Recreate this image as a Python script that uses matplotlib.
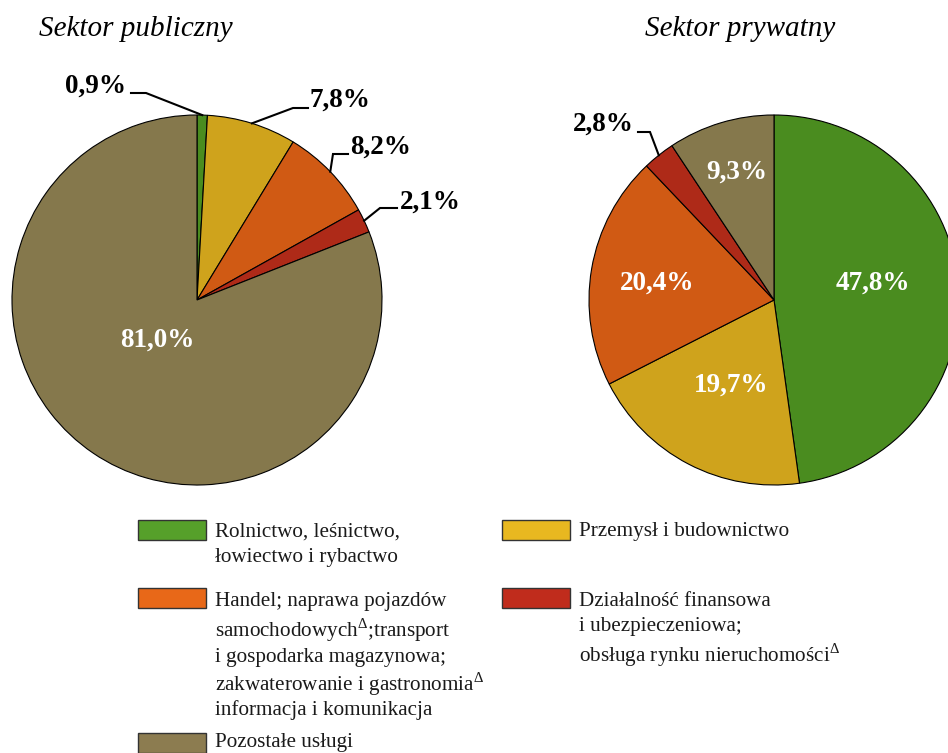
import matplotlib.pyplot as plt
from matplotlib.patches import Rectangle
import numpy as np

plt.rcParams['font.family'] = ['Liberation Serif', 'DejaVu Serif']
plt.rcParams['mathtext.fontset'] = 'custom'
plt.rcParams['mathtext.rm'] = 'Liberation Serif'

# data
sectors = ['Rolnictwo', 'Przemysl', 'Handel', 'Finanse', 'Pozostale']
public_share = [0.9, 7.8, 8.2, 2.1, 81.0]
private_share = [47.8, 19.7, 20.4, 2.8, 9.3]
public_labels = ['0,9%', '7,8%', '8,2%', '2,1%', '81,0%']
private_labels = ['47,8%', '19,7%', '20,4%', '2,8%', '9,3%']

pie_colors = ['#4a8c1f', '#cfa31c', '#d05a14', '#ae2a18', '#85784c']
legend_colors = ['#56a02a', '#e8b820', '#e86818', '#c02c1c', '#8c7c50']

fig = plt.figure(figsize=(9.48, 7.53), dpi=100)
ax = fig.add_axes([0, 0, 1, 1])

R = 185
centers = {'pub': (197, 300), 'priv': (774, 300)}

# y axis inverted (pixel coords), so screen-clockwise from top = startangle -90, counterclock
w_pub, _ = ax.pie(public_share, colors=pie_colors, startangle=-90, counterclock=True,
                  radius=R, center=centers['pub'],
                  wedgeprops=dict(edgecolor='black', linewidth=0.8))
w_priv, _ = ax.pie(private_share, colors=pie_colors, startangle=-90, counterclock=True,
                   radius=R, center=centers['priv'],
                   wedgeprops=dict(edgecolor='black', linewidth=0.8))

ax.set_xlim(0, 948)
ax.set_ylim(753, 0)
ax.set_aspect('equal')
ax.axis('off')


def edge_point(w):
    a = np.deg2rad((w.theta1 + w.theta2) / 2)
    cx, cy = w.center
    return cx + w.r * np.cos(a), cy + w.r * np.sin(a)


lbl_kw = dict(fontsize=19.5, fontweight='bold', va='center')

# outside labels with leader lines: (wedge, label, text pos, elbow start, elbow end)
outside = [
    (w_pub[0], public_labels[0], (126, 86), (131, 93), (146, 93), 'right'),
    (w_pub[1], public_labels[1], (310, 100), (293, 108), (308, 108), 'left'),
    (w_pub[2], public_labels[2], (350, 147), (333, 154), (348, 154), 'left'),
    (w_pub[3], public_labels[3], (400, 202), (380, 208), (397, 208), 'left'),
    (w_priv[3], private_labels[3], (634, 124), (638, 132), (650, 132), 'right'),
]
for w, txt, tpos, e1, e2, ha in outside:
    ex, ey = edge_point(w)
    near = e2 if ha == 'right' else e1
    far = e1 if ha == 'right' else e2
    ax.plot([far[0], near[0], ex], [far[1], near[1], ey], color='black', lw=1.5,
            solid_joinstyle='miter')
    ax.text(tpos[0], tpos[1], txt, ha=ha, color='black', **lbl_kw)

# inside labels
ax.text(157, 340, public_labels[4], ha='center', color='white', **lbl_kw)
inside_pos = [(873, 283), (731, 385), (657, 283), None, (737, 172)]
for txt, pos in zip(private_labels, inside_pos):
    if pos is not None:
        ax.text(pos[0], pos[1], txt, ha='center', color='white', **lbl_kw)

# titles
ax.text(136, 29, 'Sektor publiczny', ha='center', va='center', fontsize=21, style='italic')
ax.text(740, 29, 'Sektor prywatny', ha='center', va='center', fontsize=21, style='italic')

# legend
leg_text = [
    ['Rolnictwo, leśnictwo,', 'łowiectwo i rybactwo'],
    ['Przemysł i budownictwo'],
    ['Handel; naprawa pojazdów', r'samochodowych$^{\Delta}$;transport',
     'i gospodarka magazynowa;', r'zakwaterowanie i gastronomia$^{\Delta}$',
     'informacja i komunikacja'],
    ['Działalność finansowa', 'i ubezpieczeniowa;', r'obsługa rynku nieruchomości$^{\Delta}$'],
    ['Pozostałe usługi'],
]
leg_box = [(138, 520), (502, 520), (138, 588), (502, 588), (138, 733)]
leg_baselines = [
    [537, 562],
    [536],
    [606, 637, 662, 691, 715],
    [606, 631, 662],
    [747],
]
for col, (bx, by), lines, ys in zip(legend_colors, leg_box, leg_text, leg_baselines):
    ax.add_patch(Rectangle((bx, by), 68, 20, facecolor=col, edgecolor='#333333', lw=1))
    for line, y in zip(lines, ys):
        ax.text(bx + 77, y, line, ha='left', va='baseline', fontsize=15.2, color='#1a1a1a')

fig.savefig('out.png', dpi=100)
